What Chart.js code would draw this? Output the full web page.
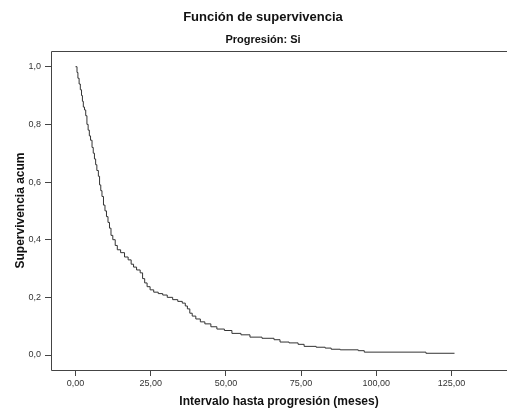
<!DOCTYPE html>
<html>
<head>
<meta charset="utf-8">
<script src="https://cdn.jsdelivr.net/npm/chart.js@4"></script>
<style>
    html, body { margin: 0; padding: 0; background: #fff; }
    #contenedor { position: relative; width: 507px; height: 410px; }
</style>
</head>
<body>
<div id="contenedor"><canvas id="grafica"></canvas></div>
<script>
    var TITULO = 'Función de supervivencia';
    var SUBTITULO = 'Progresión: Si';

    // Kaplan-Meier: meses y supervivencia acumulada
    var tiempos = [
        0.0, 0.5, 0.8, 1.2, 1.6, 2.0, 2.3, 2.6, 3.0, 3.4,
        3.8, 4.2, 4.6, 5.0, 5.5, 5.9, 6.3, 6.7, 7.1, 7.6,
        8.0, 8.4, 8.8, 9.3, 9.8, 10.3, 10.8, 11.3, 11.8, 12.4,
        13.2, 13.9, 15.0, 16.3, 17.5, 18.5, 19.3, 20.3, 21.5, 22.3,
        23.0, 23.8, 24.8, 26.0, 27.5, 29.0, 30.5, 32.3, 34.0, 35.5,
        36.5, 37.2, 38.0, 38.8, 40.0, 41.5, 43.0, 45.0, 47.0, 49.5,
        52.0, 55.0, 58.0, 62.0, 66.0, 68.0, 71.0, 74.0, 76.0, 80.0,
        83.0, 85.0, 88.0, 94.0, 96.0, 116.5, 126.0,
    ];
    var supervivencia = [
        1.00, 0.98, 0.96, 0.94, 0.92, 0.90, 0.88, 0.86, 0.85, 0.83,
        0.80, 0.78, 0.76, 0.745, 0.72, 0.70, 0.68, 0.66, 0.64, 0.62,
        0.59, 0.57, 0.55, 0.52, 0.50, 0.48, 0.46, 0.44, 0.415, 0.40,
        0.38, 0.365, 0.355, 0.34, 0.33, 0.315, 0.305, 0.295, 0.285, 0.265,
        0.25, 0.237, 0.226, 0.218, 0.213, 0.208, 0.200, 0.192, 0.186, 0.180,
        0.170, 0.160, 0.145, 0.135, 0.125, 0.115, 0.108, 0.098, 0.090, 0.085,
        0.075, 0.070, 0.062, 0.058, 0.053, 0.045, 0.042, 0.037, 0.030, 0.027,
        0.024, 0.020, 0.018, 0.015, 0.010, 0.006, 0.006,
    ];

    var ticksX = [0, 25, 50, 75, 100, 125];
    var etiquetasX = ['0,00', '25,00', '50,00', '75,00', '100,00', '125,00'];
    var ticksY = [0, 0.2, 0.4, 0.6, 0.8, 1.0];
    var etiquetasY = ['0,0', '0,2', '0,4', '0,6', '0,8', '1,0'];

    var FUENTE = '"Liberation Sans", Arial, sans-serif';

    // marco: solo izquierda, arriba y abajo (el derecho queda fuera del lienzo)
    var marco = {
        id: 'marco',
        afterDraw: function (chart) {
            var ctx = chart.ctx;
            var a = chart.chartArea;
            var l = Math.round(a.left) + 0.5;
            var t = Math.round(a.top) + 0.5;
            var b = Math.round(a.bottom) + 0.5;

            ctx.save();
            // limpiar el borde derecho del área
            ctx.fillStyle = '#fff';
            ctx.fillRect(chart.width - 3, t + 1, 5, b - t - 1.5);

            ctx.strokeStyle = '#444';
            ctx.lineWidth = 1;
            ctx.beginPath();
            ctx.moveTo(chart.width + 2, t);
            ctx.lineTo(l, t);
            ctx.lineTo(l, b);
            ctx.lineTo(chart.width + 2, b);
            ctx.stroke();

            ctx.fillStyle = '#111';
            ctx.textAlign = 'center';
            ctx.textBaseline = 'middle';
            ctx.font = 'bold 13px ' + FUENTE;
            ctx.fillText(TITULO, 263, 17);
            ctx.font = 'bold 11px ' + FUENTE;
            ctx.fillText(SUBTITULO, 263, 40);
            ctx.restore();
        },
    };

    function fijarTicks(valores) {
        return function (scale) {
            scale.ticks = valores.map(function (v) { return {value: v}; });
        };
    }

    new Chart(document.getElementById('grafica'), {
        type: 'line',
        data: {
            datasets: [{
                data: tiempos.map(function (t, i) {
                    return {x: t, y: supervivencia[i]};
                }),
                stepped: true,
                borderColor: '#333',
                borderWidth: 1,
                pointRadius: 0,
                fill: false,
            }],
        },
        options: {
            responsive: true,
            maintainAspectRatio: false,
            animation: false,
            layout: {padding: {top: 51, left: 0, right: 0, bottom: 0}},
            plugins: {
                legend: {display: false},
                tooltip: {enabled: false},
            },
            scales: {
                x: {
                    type: 'linear',
                    min: -8.145,
                    max: 143.45,
                    afterBuildTicks: fijarTicks(ticksX),
                    afterFit: function (scale) {
                        scale.height = 40;
                        scale.paddingLeft = 0;
                        scale.paddingRight = 0;
                    },
                    grid: {drawOnChartArea: false, drawTicks: true, tickLength: 6, color: '#444'},
                    border: {display: false},
                    ticks: {
                        autoSkip: false,
                        maxRotation: 0,
                        padding: 2,
                        color: '#333',
                        font: {family: FUENTE, size: 9},
                        callback: function (v, i) { return etiquetasX[i]; },
                    },
                    title: {
                        display: true,
                        text: 'Intervalo hasta progresión (meses)',
                        color: '#111',
                        font: {family: FUENTE, size: 12, weight: 'bold'},
                        padding: {top: 0, bottom: 1},
                    },
                },
                y: {
                    min: -0.052,
                    max: 1.0545,
                    afterBuildTicks: fijarTicks(ticksY),
                    afterFit: function (scale) {
                        scale.width = 51;
                        scale.paddingTop = 0;
                        scale.paddingBottom = 0;
                    },
                    grid: {drawOnChartArea: false, drawTicks: true, tickLength: 6, color: '#444'},
                    border: {display: false},
                    ticks: {
                        autoSkip: false,
                        padding: 4,
                        color: '#333',
                        font: {family: FUENTE, size: 9},
                        callback: function (v, i) { return etiquetasY[i]; },
                    },
                    title: {
                        display: true,
                        text: 'Supervivencia acum',
                        color: '#111',
                        font: {family: FUENTE, size: 12, weight: 'bold'},
                        padding: {top: 13, bottom: 0},
                    },
                },
            },
        },
        plugins: [marco],
    });
</script>
</body>
</html>
